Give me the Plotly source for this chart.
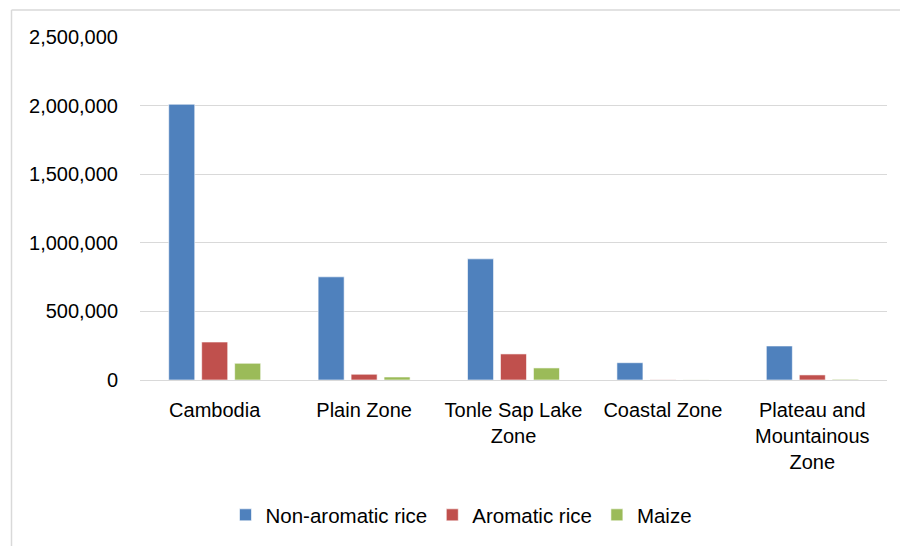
import plotly.graph_objects as go

categories = ["Cambodia", "Plain Zone", "Tonle Sap Lake<br>Zone", "Coastal Zone",
              "Plateau and<br>Mountainous<br>Zone"]
non_aromatic = [2010000, 752000, 883000, 126000, 248000]
aromatic = [277000, 42000, 190000, 1500, 37000]
maize = [122000, 22000, 88000, 800, 5000]

series_names = ["Non-aromatic rice", "Aromatic rice", "Maize"]
colors = ["#4F81BD", "#C0504D", "#9BBB59"]

font_family = "Liberation Sans, Arial, sans-serif"

fig = go.Figure()
for name, vals, col in zip(series_names, [non_aromatic, aromatic, maize], colors):
    fig.add_trace(go.Bar(
        x=categories, y=vals, name=name,
        marker=dict(color=col, line=dict(color="rgba(255,255,255,0.6)", width=1)),
    ))

W, H = 900, 546
L, R, T, B = 140, 13, 37, 166
pw, ph = W - L - R, H - T - B

fig.update_layout(
    width=W, height=H,
    margin=dict(l=L, r=R, t=T, b=B, pad=0, autoexpand=False),
    paper_bgcolor="white", plot_bgcolor="white",
    barmode="group", bargap=0.338, bargroupgap=0.21,
    font=dict(family=font_family, size=20, color="#000000"),
    showlegend=True,
    legend=dict(orientation="h", x=0.5 - 52 / pw, xanchor="center", y=(380 - 515) / ph,
                yanchor="middle", font=dict(size=20.5), traceorder="normal",
                itemwidth=30),
    xaxis=dict(showgrid=False, showline=False, ticks="", ticklabelstandoff=16,
               tickfont=dict(size=20), automargin=False),
    yaxis=dict(range=[0, 2500000], dtick=500000, tickformat=",",
               showgrid=True, gridcolor="#D9D9D9", gridwidth=1.3,
               zeroline=True, zerolinecolor="#D9D9D9", zerolinewidth=1.3,
               showline=False, ticks="", ticklabelstandoff=21,
               tickfont=dict(size=20), automargin=False),
)

# outer chart border (light gray), visible on top and left only
x_left = (11.5 - L) / pw
y_top = (380 - 10) / ph
y_bot = (380 - 560) / ph
x_right = (910 - L) / pw
fig.add_shape(type="line", xref="paper", yref="paper", x0=x_left, x1=x_right,
              y0=y_top, y1=y_top, line=dict(color="#D9D9D9", width=1.5))
fig.add_shape(type="line", xref="paper", yref="paper", x0=x_left, x1=x_left,
              y0=y_bot, y1=y_top, line=dict(color="#D9D9D9", width=1.5))

fig.write_html("out.html", config={"displayModeBar": False},
               post_script="document.body.style.margin='0';")
